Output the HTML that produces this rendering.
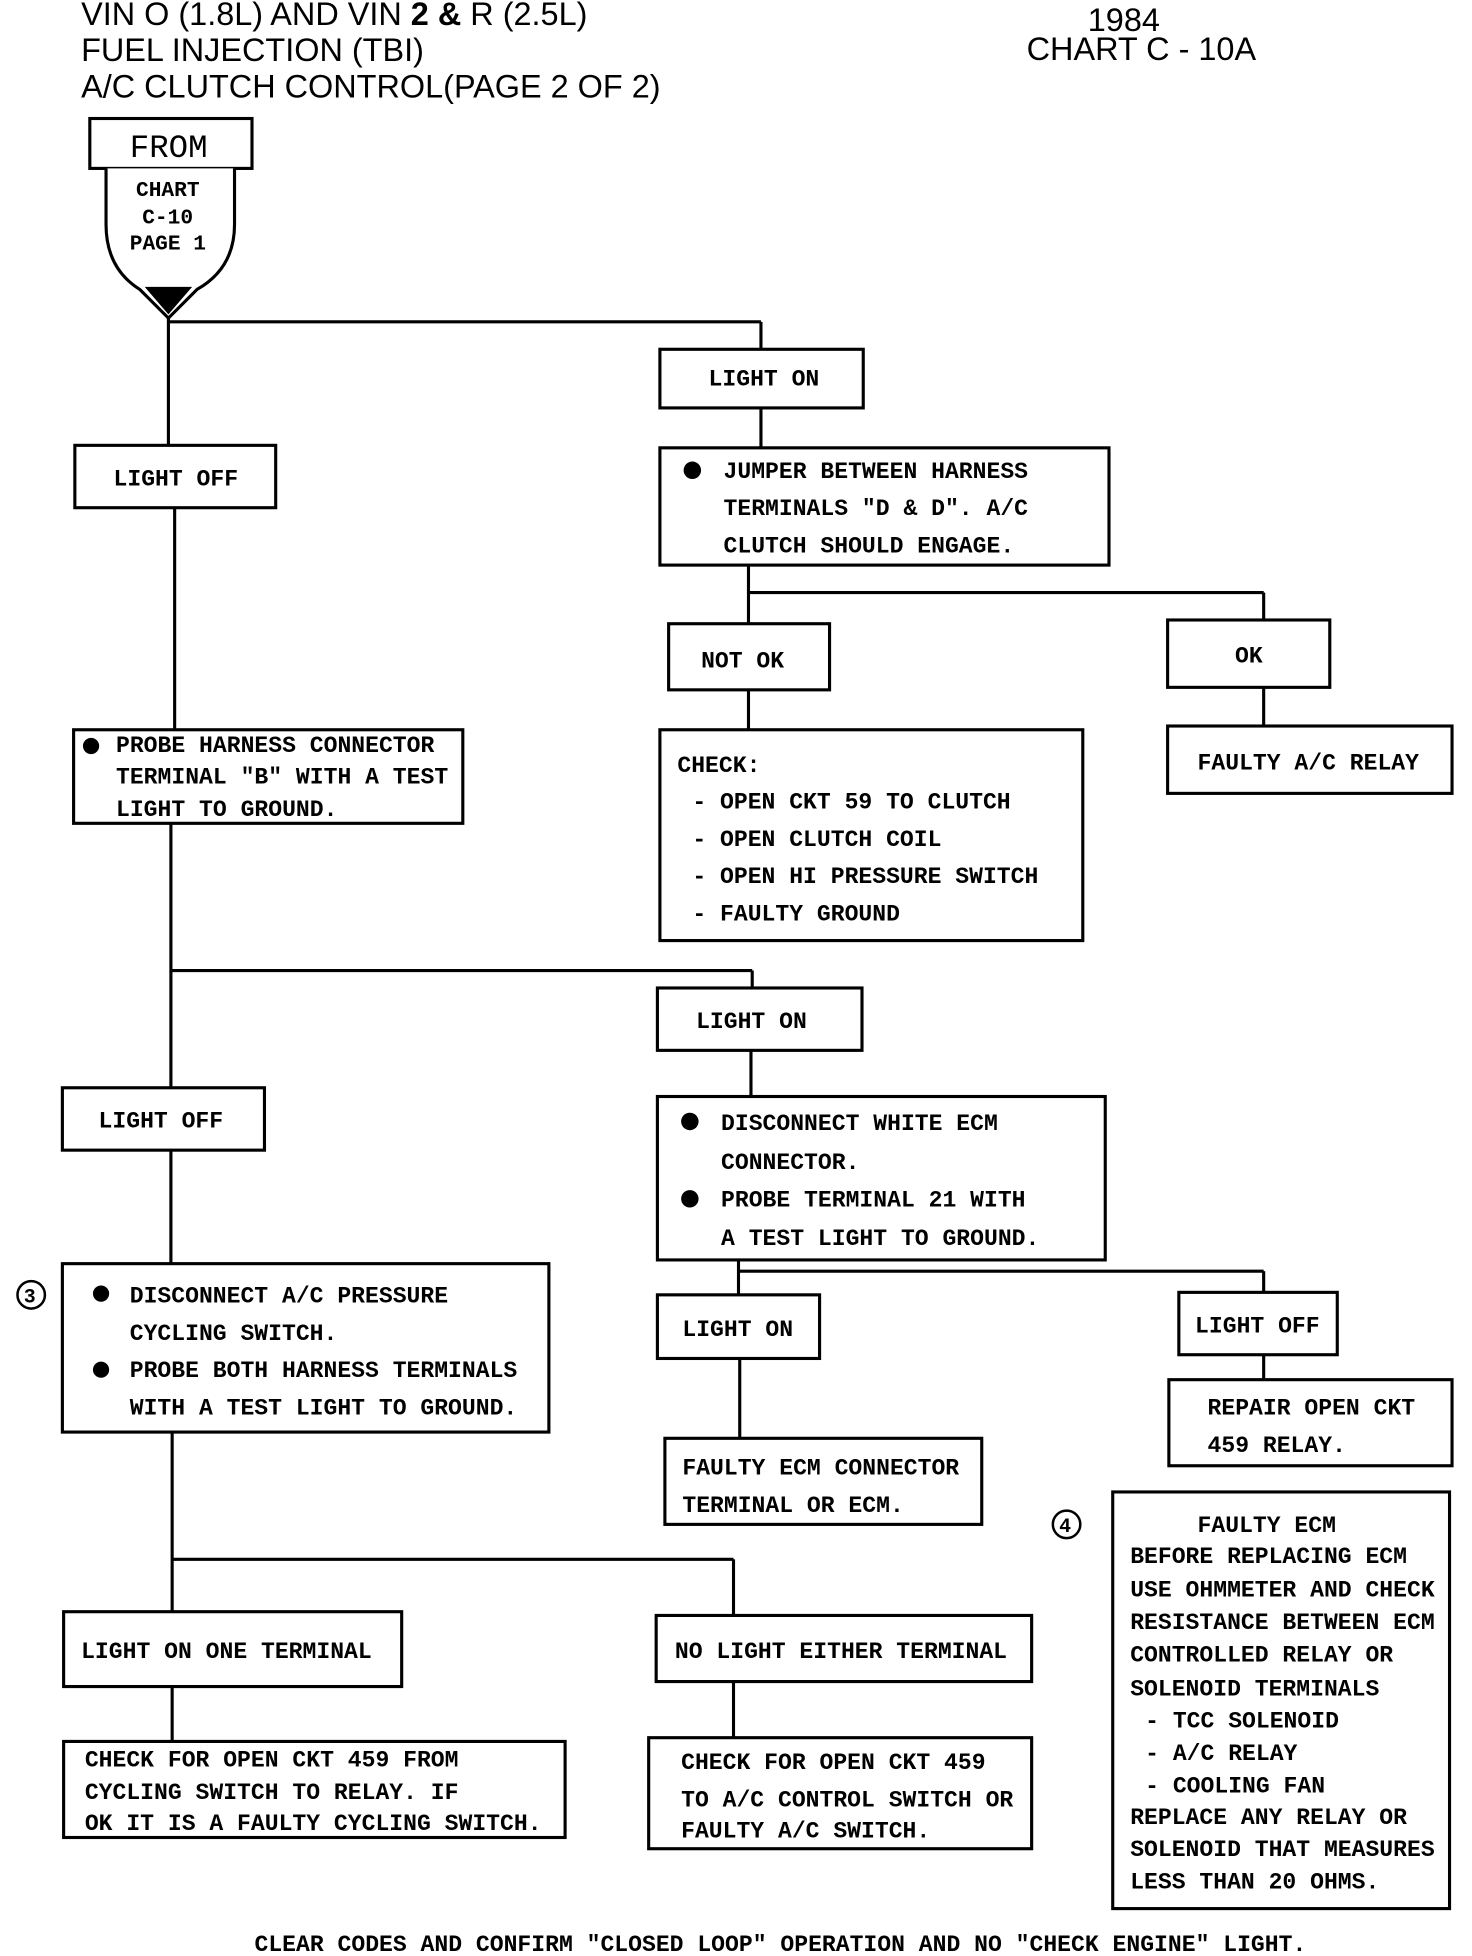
<!DOCTYPE html>
<html><head><meta charset="utf-8"><style>
html,body{margin:0;padding:0;background:#fff;}
svg{display:block}
.t{font-family:"Liberation Mono",monospace;font-weight:bold;font-size:18.5px;fill:#000}
.h{font-family:"Liberation Sans",sans-serif;font-size:26px;fill:#000}
rect{fill:#fff;stroke:#000;stroke-width:2.5}
line,path.l{stroke:#000;stroke-width:2.5;fill:none}
</style></head><body>
<svg width="1472" height="1956" viewBox="0 0 1180 1568" xmlns="http://www.w3.org/2000/svg">
<text class="h" x="65" y="20">VIN O (1.8L) AND VIN <tspan font-weight="bold">2</tspan> <tspan font-weight="bold">&amp;</tspan> R (2.5L)</text>
<text class="h" x="65" y="49">FUEL INJECTION (TBI)</text>
<text class="h" x="65" y="78">A/C CLUTCH CONTROL(PAGE 2 OF 2)</text>
<text class="h" x="872" y="25">1984</text>
<text class="h" x="823" y="48">CHART C - 10A</text>

<line x1="135" y1="250" x2="135" y2="357"/>
<line x1="135" y1="258" x2="610" y2="258"/>
<line x1="610" y1="258" x2="610" y2="280"/>
<line x1="610" y1="327" x2="610" y2="359"/>
<line x1="140" y1="407" x2="140" y2="585"/>
<line x1="600" y1="453" x2="600" y2="500"/>
<line x1="600" y1="475" x2="1013" y2="475"/>
<line x1="1013" y1="475" x2="1013" y2="497"/>
<line x1="600" y1="553" x2="600" y2="585"/>
<line x1="1013" y1="551" x2="1013" y2="582"/>
<line x1="137" y1="660" x2="137" y2="872"/>
<line x1="137" y1="778" x2="603" y2="778"/>
<line x1="603" y1="778" x2="603" y2="792"/>
<line x1="137" y1="922" x2="137" y2="1013"/>
<line x1="602" y1="842" x2="602" y2="879"/>
<line x1="592" y1="1010" x2="592" y2="1038"/>
<line x1="592" y1="1019" x2="1013" y2="1019"/>
<line x1="1013" y1="1019" x2="1013" y2="1036"/>
<line x1="1013" y1="1086" x2="1013" y2="1106"/>
<line x1="593" y1="1089" x2="593" y2="1153"/>
<line x1="138" y1="1148" x2="138" y2="1292"/>
<line x1="138" y1="1250" x2="588" y2="1250"/>
<line x1="588" y1="1250" x2="588" y2="1295"/>
<line x1="138" y1="1352" x2="138" y2="1396"/>
<line x1="588" y1="1348" x2="588" y2="1393"/>

<rect x="72" y="95" width="130" height="40"/>
<text class="t" x="104" y="126" style="font-size:26px;font-weight:normal">FROM</text>
<path d="M85 135 L85 180 Q85 215 112 232 L135 255 L158 232 Q188 215 188 180 L188 135" fill="#fff" stroke="#000" stroke-width="2.5"/>
<path d="M116 230 L135 252 L154 230 Z" fill="#000"/>
<text class="t" x="109" y="157" style="font-size:17px">CHART</text>
<text class="t" x="114" y="179" style="font-size:17px">C-10</text>
<text class="t" x="104" y="200" style="font-size:17px">PAGE 1</text>

<rect x="529" y="280" width="163" height="47"/><text class="t" x="568" y="309">LIGHT ON</text>
<rect x="60" y="357" width="161" height="50"/><text class="t" x="91" y="389">LIGHT OFF</text>
<rect x="529" y="359" width="360" height="94"/>
<circle cx="555" cy="377" r="7"/>
<text class="t" x="580" y="383">JUMPER BETWEEN HARNESS</text>
<text class="t" x="580" y="413">TERMINALS "D &amp; D". A/C</text>
<text class="t" x="580" y="443">CLUTCH SHOULD ENGAGE.</text>
<rect x="536" y="500" width="129" height="53"/><text class="t" x="562" y="535">NOT OK</text>
<rect x="936" y="497" width="130" height="54"/><text class="t" x="990" y="531">OK</text>
<rect x="936" y="582" width="228" height="54"/><text class="t" x="960" y="617">FAULTY A/C RELAY</text>
<rect x="59" y="585" width="312" height="75"/>
<circle cx="73" cy="598" r="6.5"/>
<text class="t" x="93" y="603">PROBE HARNESS CONNECTOR</text>
<text class="t" x="93" y="628">TERMINAL "B" WITH A TEST</text>
<text class="t" x="93" y="654">LIGHT TO GROUND.</text>
<rect x="529" y="585" width="339" height="169"/>
<text class="t" x="543" y="619">CHECK:</text>
<text class="t" x="555" y="648">- OPEN CKT 59 TO CLUTCH</text>
<text class="t" x="555" y="678">- OPEN CLUTCH COIL</text>
<text class="t" x="555" y="708">- OPEN HI PRESSURE SWITCH</text>
<text class="t" x="555" y="738">- FAULTY GROUND</text>
<rect x="527" y="792" width="164" height="50"/><text class="t" x="558" y="824">LIGHT ON</text>
<rect x="50" y="872" width="162" height="50"/><text class="t" x="79" y="904">LIGHT OFF</text>
<rect x="527" y="879" width="359" height="131"/>
<circle cx="553" cy="899" r="7"/>
<text class="t" x="578" y="906">DISCONNECT WHITE ECM</text>
<text class="t" x="578" y="937">CONNECTOR.</text>
<circle cx="553" cy="961" r="7"/>
<text class="t" x="578" y="967">PROBE TERMINAL 21 WITH</text>
<text class="t" x="578" y="998">A TEST LIGHT TO GROUND.</text>
<circle cx="25" cy="1038" r="11" fill="#fff" stroke="#000" stroke-width="2"/>
<text class="t" x="19" y="1044" style="font-size:16px">3</text>
<rect x="50" y="1013" width="390" height="135"/>
<circle cx="81" cy="1037" r="6.5"/>
<text class="t" x="104" y="1044">DISCONNECT A/C PRESSURE</text>
<text class="t" x="104" y="1074">CYCLING SWITCH.</text>
<circle cx="81" cy="1098" r="6.5"/>
<text class="t" x="104" y="1104">PROBE BOTH HARNESS TERMINALS</text>
<text class="t" x="104" y="1134">WITH A TEST LIGHT TO GROUND.</text>
<rect x="527" y="1038" width="130" height="51"/><text class="t" x="547" y="1071">LIGHT ON</text>
<rect x="945" y="1036" width="127" height="50"/><text class="t" x="958" y="1068">LIGHT OFF</text>
<rect x="937" y="1106" width="227" height="69"/>
<text class="t" x="968" y="1134">REPAIR OPEN CKT</text>
<text class="t" x="968" y="1164">459 RELAY.</text>
<rect x="533" y="1153" width="254" height="69"/>
<text class="t" x="547" y="1182">FAULTY ECM CONNECTOR</text>
<text class="t" x="547" y="1212">TERMINAL OR ECM.</text>
<circle cx="855" cy="1222" r="11" fill="#fff" stroke="#000" stroke-width="2"/>
<text class="t" x="849" y="1228" style="font-size:16px">4</text>
<rect x="892" y="1196" width="270" height="334"/>
<text class="t" x="960" y="1228">FAULTY ECM</text>
<text class="t" x="906" y="1253">BEFORE REPLACING ECM</text>
<text class="t" x="906" y="1280">USE OHMMETER AND CHECK</text>
<text class="t" x="906" y="1306">RESISTANCE BETWEEN ECM</text>
<text class="t" x="906" y="1332">CONTROLLED RELAY OR</text>
<text class="t" x="906" y="1359">SOLENOID TERMINALS</text>
<text class="t" x="918" y="1385">- TCC SOLENOID</text>
<text class="t" x="918" y="1411">- A/C RELAY</text>
<text class="t" x="918" y="1437">- COOLING FAN</text>
<text class="t" x="906" y="1462">REPLACE ANY RELAY OR</text>
<text class="t" x="906" y="1488">SOLENOID THAT MEASURES</text>
<text class="t" x="906" y="1514">LESS THAN 20 OHMS.</text>
<rect x="51" y="1292" width="271" height="60"/><text class="t" x="65" y="1329">LIGHT ON ONE TERMINAL</text>
<rect x="526" y="1295" width="301" height="53"/><text class="t" x="541" y="1329">NO LIGHT EITHER TERMINAL</text>
<rect x="51" y="1396" width="402" height="77"/>
<text class="t" x="68" y="1416">CHECK FOR OPEN CKT 459 FROM</text>
<text class="t" x="68" y="1442">CYCLING SWITCH TO RELAY. IF</text>
<text class="t" x="68" y="1467">OK IT IS A FAULTY CYCLING SWITCH.</text>
<rect x="520" y="1393" width="307" height="89"/>
<text class="t" x="546" y="1418">CHECK FOR OPEN CKT 459</text>
<text class="t" x="546" y="1448">TO A/C CONTROL SWITCH OR</text>
<text class="t" x="546" y="1473">FAULTY A/C SWITCH.</text>
<text class="t" x="204" y="1564" style="font-size:18.5px">CLEAR CODES AND CONFIRM "CLOSED LOOP" OPERATION AND NO "CHECK ENGINE" LIGHT.</text>
</svg>
</body></html>
